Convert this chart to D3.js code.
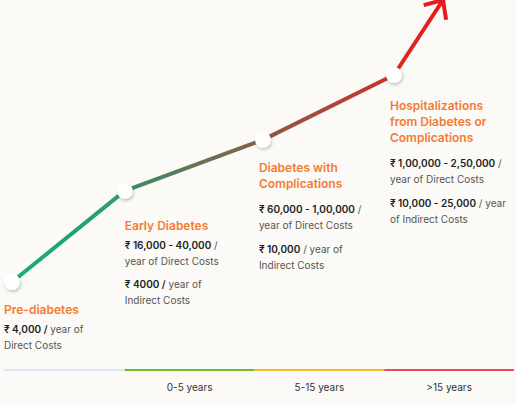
<!DOCTYPE html>
<html>
<head>
<meta charset="utf-8">
<script src="https://cdn.jsdelivr.net/npm/d3@7"></script>
<style>
  html, body { margin: 0; padding: 0; background: #fbfaf6; }
  svg { display: block; font-family: Inter, "Noto Sans", sans-serif; }
</style>
</head>
<body>
<svg id="chart" width="516" height="405"></svg>
<script>
// phase position along timeline (0..4) and relative cost level (0..1)
const phases = [0.131, 1.0, 2.065, 3.075];
const costLevel = [0, 0.323, 0.504, 0.734];
const arrowTip = {phase: 3.453, cost: 1.0};

const segColors = [
  ["#15ad7e", "#2d9b6d"],
  ["#3a8d64", "#8a5e45"],
  ["#8c5a42", "#c8342a"],
  ["#d72a22", "#e61b1b"]
];

const titles = [
  ["Pre-diabetes"],
  ["Early Diabetes"],
  ["Diabetes with", "Complications"],
  ["Hospitalizations", "from Diabetes or", "Complications"]
];

// each paragraph: lines of [bold, regular]
const costs = [
  [[["₹ 4,000 /", " year of"], ["", "Direct Costs"]]],
  [[["₹ 16,000 - 40,000", " /"], ["", "year of Direct Costs"]],
   [["₹ 4000 /", " year of"], ["", "Indirect Costs"]]],
  [[["₹ 60,000 - 1,00,000", " /"], ["", "year of Direct Costs"]],
   [["₹ 10,000", " / year of"], ["", "Indirect Costs"]]],
  [[["₹ 1,00,000 - 2,50,000", " /"], ["", "year of Direct Costs"]],
   [["₹ 10,000 - 25,000", " / year"], ["", "of Indirect Costs"]]]
];

const periodStart = [0.07, 1, 2, 3];
const periodLabels = ["", "0-5 years", "5-15 years", ">15 years"];
const periodColors = ["#dbe5f4", "#6fbb2f", "#f6bb2c", "#e94a58"];

const svg = d3.select("#chart");

const x = d3.scaleLinear().domain([0, 4]).range([-5, 514]);
const y = d3.scaleLinear().domain([0, 1]).range([282, 0]);

const defs = svg.append("defs");
const shadow = defs.append("filter").attr("id", "shadow")
  .attr("x", "-50%").attr("y", "-50%").attr("width", "200%").attr("height", "200%");
shadow.append("feDropShadow")
  .attr("dx", 1).attr("dy", 2).attr("stdDeviation", 1.5)
  .attr("flood-color", "#000").attr("flood-opacity", 0.22);

// timeline at bottom
const axisY = 370;
svg.append("g").selectAll("line")
  .data(periodColors)
  .join("line")
  .attr("x1", (d, i) => x(periodStart[i]))
  .attr("x2", (d, i) => x(i + 1))
  .attr("y1", axisY).attr("y2", axisY)
  .attr("stroke", d => d)
  .attr("stroke-width", 2);

svg.append("g").selectAll("text")
  .data(periodLabels)
  .join("text")
  .attr("x", (d, i) => x(i + 0.5))
  .attr("y", axisY + 21)
  .attr("text-anchor", "middle")
  .attr("font-size", 10)
  .attr("fill", "#333")
  .text(d => d);

// line segments with gradients
const pts = phases.map((p, i) => [x(p), y(costLevel[i])]);
const ends = pts.concat([[x(arrowTip.phase), y(arrowTip.cost)]]);

segColors.forEach((c, i) => {
  const [x1, y1] = ends[i], [x2, y2] = ends[i + 1];
  const g = defs.append("linearGradient")
    .attr("id", "seg" + i)
    .attr("gradientUnits", "userSpaceOnUse")
    .attr("x1", x1).attr("y1", y1).attr("x2", x2).attr("y2", y2);
  g.append("stop").attr("offset", "0%").attr("stop-color", c[0]);
  g.append("stop").attr("offset", "100%").attr("stop-color", c[1]);
  svg.append("line")
    .attr("x1", x1).attr("y1", y1).attr("x2", x2).attr("y2", y2)
    .attr("stroke", `url(#seg${i})`)
    .attr("stroke-width", 4);
});

// arrow head
const [ax, ay] = ends[ends.length - 1];
const [bx, by] = ends[ends.length - 2];
const ang = Math.atan2(by - ay, bx - ax);
const spread = 42 * Math.PI / 180, len = 20;
const barb = s => [ax + len * Math.cos(ang + s * spread), ay + len * Math.sin(ang + s * spread)];
const b1 = barb(1), b2 = barb(-1);
svg.append("path")
  .attr("d", `M${b1[0]},${b1[1]}L${ax},${ay}L${b2[0]},${b2[1]}`)
  .attr("fill", "none")
  .attr("stroke", "#e41c1c")
  .attr("stroke-width", 4)
  .attr("stroke-linejoin", "miter");

// points
svg.append("g").selectAll("circle")
  .data(pts)
  .join("circle")
  .attr("cx", d => d[0])
  .attr("cy", d => d[1])
  .attr("r", 8)
  .attr("fill", "#fff")
  .attr("filter", "url(#shadow)");

// labels
const titleBaseline = [314, 230, 172, 110];
const labelDx = [-8, 0, -4, -4];
titles.forEach((t, i) => {
  const lx = x(phases[i]) + labelDx[i];
  const g = svg.append("g");
  t.forEach((line, j) => {
    g.append("text")
      .attr("x", lx)
      .attr("y", titleBaseline[i] + j * 16)
      .attr("font-size", 12)
      .attr("font-weight", 600)
      .attr("fill", "#f57a32")
      .text(line);
  });
  let yy = titleBaseline[i] + (t.length - 1) * 16 + (t.length > 1 ? 25 : 18.5);
  costs[i].forEach(para => {
    para.forEach(line => {
      const txt = g.append("text")
        .attr("x", lx)
        .attr("y", yy)
        .attr("font-size", 10)
        .attr("fill", "#555");
      if (line[0]) txt.append("tspan").attr("font-weight", 600).attr("fill", "#222").text(line[0]);
      txt.append("tspan").text(line[1]);
      yy += 16;
    });
    yy += 7.5;
  });
});
</script>
</body>
</html>
